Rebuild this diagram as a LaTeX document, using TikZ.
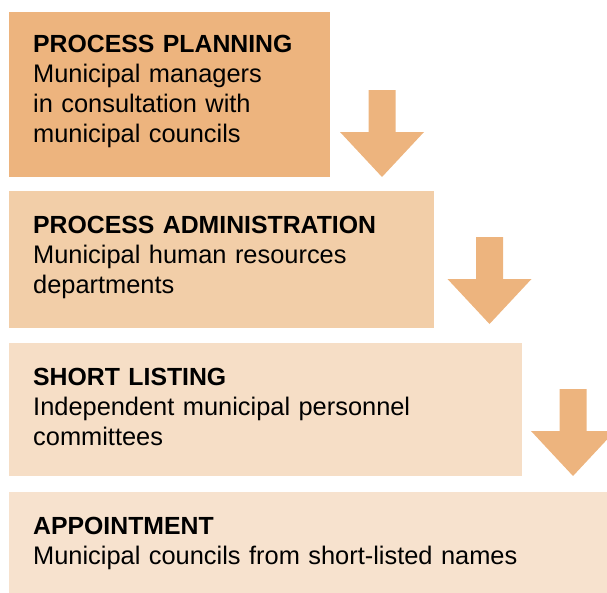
\documentclass[tikz,border=0pt]{standalone}
\usepackage{fontspec}
\setmainfont{Liberation Sans}
\definecolor{boxA}{RGB}{237,180,126}
\definecolor{boxB}{RGB}{242,206,168}
\definecolor{boxC}{RGB}{246,222,198}
\definecolor{boxD}{RGB}{247,226,206}
\definecolor{arrowc}{RGB}{237,180,126}
\begin{document}
\begin{tikzpicture}[x=1pt,y=-1pt,
  stagebox/.style={fill=#1, draw=none, anchor=north west, inner sep=0pt, outer sep=0pt},
  stagetext/.style={anchor=base west, inner sep=0pt, align=left, text width=560pt,
    font=\fontsize{25.4}{30}\selectfont},
  stagetitle/.style={font=\fontsize{24.8}{30}\selectfont\bfseries},
  downarrow/.pic={\fill[arrowc] (-13.5,0) -- (13.5,0) -- (13.5,42) -- (42,42) -- (0,87)
     -- (-42,42) -- (-13.5,42) -- cycle;}]
\useasboundingbox (0,0) rectangle (607,592);
\node[stagebox=boxA, minimum width=321pt, minimum height=165pt] (b1) at (9,12) {};
\node[stagebox=boxB, minimum width=425pt, minimum height=137pt] (b2) at (9,191) {};
\node[stagebox=boxC, minimum width=513pt, minimum height=133pt] (b3) at (9,343) {};
\node[stagebox=boxD, minimum width=600pt, minimum height=102pt] (b4) at (9,492) {};
\node[stagetext] (t1) at (33,52) {{\fontsize{24.8}{30}\selectfont\bfseries PROCESS PLANNING}\\Municipal managers\\in consultation with\\municipal councils};
\node[stagetext] (t2) at (33,233) {{\fontsize{24.8}{30}\selectfont\bfseries PROCESS ADMINISTRATION}\\Municipal human resources\\departments};
\node[stagetext] (t3) at (33,385) {{\fontsize{24.8}{30}\selectfont\bfseries SHORT LISTING}\\Independent municipal personnel\\committees};
\node[stagetext] (t4) at (33,534) {{\fontsize{24.8}{30}\selectfont\bfseries APPOINTMENT}\\Municipal councils from short-listed names};
\pic at (382,90) {downarrow};
\pic at (489.5,237) {downarrow};
\pic at (573,389) {downarrow};
\end{tikzpicture}
\end{document}
